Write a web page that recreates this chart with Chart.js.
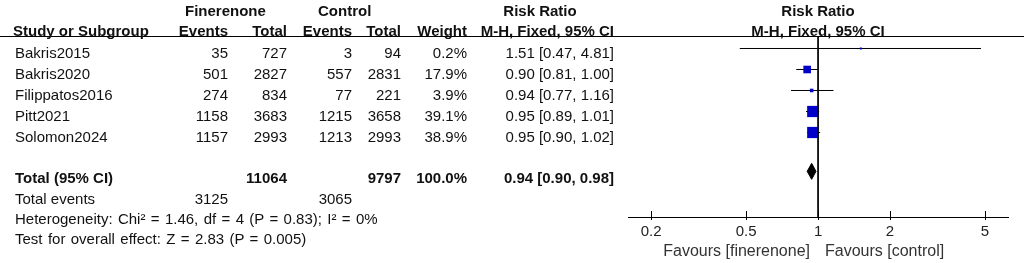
<!DOCTYPE html>
<html>
<head>
<meta charset="utf-8">
<script src="https://cdn.jsdelivr.net/npm/chart.js@4/dist/chart.umd.min.js"></script>
<style>
    html, body { margin: 0; padding: 0; background: #fff; }
    #wrap { position: relative; width: 1024px; height: 263px; overflow: hidden; font-family: "Liberation Sans", Arial, sans-serif; font-size: 15px; color: #111; }
    #forest { position: absolute; left: 0; top: 0; }
    .cell { position: absolute; line-height: 21px; white-space: nowrap; }
    .b { font-weight: bold; }
    .wide { word-spacing: 1.2px; }
    .fav { font-size: 16px; color: #333; }
    .rule { position: absolute; left: 0; top: 36px; width: 1024px; height: 1px; background: #000; }
</style>
</head>
<body>
<div id="wrap">
    <canvas id="forest" width="1024" height="263"></canvas>
    <div class="rule"></div>
</div>
<script>
// study data
const studies = ['Bakris2015', 'Bakris2020', 'Filippatos2016', 'Pitt2021', 'Solomon2024'];
const finEvents = [35, 501, 274, 1158, 1157];
const finTotal = [727, 2827, 834, 3683, 2993];
const ctlEvents = [3, 557, 77, 1215, 1213];
const ctlTotal = [94, 2831, 221, 3658, 2993];
const weights = [0.2, 17.9, 3.9, 39.1, 38.9];
const riskRatio = [1.51, 0.90, 0.94, 0.95, 0.95];
const ciLow = [0.47, 0.81, 0.77, 0.89, 0.90];
const ciHigh = [4.81, 1.00, 1.16, 1.01, 1.02];

// pooled result
const totalFin = 11064;
const totalCtl = 9797;
const totalEventsFin = 3125;
const totalEventsCtl = 3065;
const pooled = [0.90, 0.94, 0.98]; // low, estimate, high
const hetChi2 = 1.46, hetDf = 4, hetP = 0.83, hetI2 = 0;
const overallZ = 2.83, overallP = 0.005;

const xTicks = [0.2, 0.5, 1, 2, 5];

const boxBlue = '#0000c8';

// table text
const wrap = document.getElementById('wrap');

function place(text, x, y, align, cls) {
    const el = document.createElement('div');
    el.className = 'cell' + (cls ? ' ' + cls : '');
    el.textContent = text;
    el.style.top = (y - 10.5) + 'px';
    if (align === 'right') {
        el.style.right = (1024 - x) + 'px';
    } else if (align === 'center') {
        el.style.left = x + 'px';
        el.style.transform = 'translateX(-50%)';
    } else {
        el.style.left = x + 'px';
    }
    wrap.appendChild(el);
}

const col = { name: 15, finEv: 228, finTot: 287, ctlEv: 352, ctlTot: 401, weight: 467, rr: 614 };

function fmtCI(est, lo, hi) {
    return `${est.toFixed(2)} [${lo.toFixed(2)}, ${hi.toFixed(2)}]`;
}

// headers
place('Finerenone', 185, 10, 'left', 'b');
place('Control', 318, 10, 'left', 'b');
place('Risk Ratio', 540, 10, 'center', 'b');
place('Risk Ratio', 818, 10, 'center', 'b');
place('Study or Subgroup', 13, 30.5, 'left', 'b');
place('Events', col.finEv, 30.5, 'right', 'b');
place('Total', col.finTot, 30.5, 'right', 'b');
place('Events', col.ctlEv, 30.5, 'right', 'b');
place('Total', col.ctlTot, 30.5, 'right', 'b');
place('Weight', col.weight, 30.5, 'right', 'b');
place('M-H, Fixed, 95% CI', col.rr, 30.5, 'right', 'b');
place('M-H, Fixed, 95% CI', 818, 30.5, 'center', 'b');

studies.forEach((s, i) => {
    const y = 52 + 21 * i;
    place(s, col.name, y, 'left');
    place(String(finEvents[i]), col.finEv, y, 'right');
    place(String(finTotal[i]), col.finTot, y, 'right');
    place(String(ctlEvents[i]), col.ctlEv, y, 'right');
    place(String(ctlTotal[i]), col.ctlTot, y, 'right');
    place(weights[i].toFixed(1) + '%', col.weight, y, 'right');
    place(fmtCI(riskRatio[i], ciLow[i], ciHigh[i]), col.rr, y, 'right');
});

place('Total (95% CI)', col.name, 177, 'left', 'b');
place(String(totalFin), col.finTot, 177, 'right', 'b');
place(String(totalCtl), col.ctlTot, 177, 'right', 'b');
place('100.0%', col.weight, 177, 'right', 'b');
place(fmtCI(pooled[1], pooled[0], pooled[2]), col.rr, 177, 'right', 'b');
place('Total events', col.name, 198, 'left');
place(String(totalEventsFin), col.finEv, 198, 'right');
place(String(totalEventsCtl), col.ctlEv, 198, 'right');
place(`Heterogeneity: Chi² = ${hetChi2.toFixed(2)}, df = ${hetDf} (P = ${hetP.toFixed(2)}); I² = ${hetI2}%`, col.name, 218, 'left', 'wide');
place(`Test for overall effect: Z = ${overallZ.toFixed(2)} (P = ${overallP})`, col.name, 238, 'left', 'wide');

place('Favours [finerenone]', 810, 250, 'right', 'fav');
place('Favours [control]', 825, 250, 'left', 'fav');

// forest plot
const yMin = -0.595;
const yMax = 8.024;
const totalRow = 5.85;
const diamondHalf = 0.38;

const ciSets = studies.map((s, i) => ({
    label: s + ' CI',
    data: [{ x: ciLow[i], y: i }, { x: ciHigh[i], y: i }],
    borderColor: '#000',
    borderWidth: 1,
    pointRadius: 0,
    order: 3
}));

// RevMan style ticks that cross the axis line
const crossTicks = {
    id: 'crossTicks',
    afterDraw(chart) {
        const x = chart.scales.x;
        const ctx = chart.ctx;
        const base = chart.chartArea.bottom;
        ctx.save();
        ctx.strokeStyle = '#000';
        ctx.lineWidth = 1;
        xTicks.forEach(v => {
            const px = Math.round(x.getPixelForValue(v)) + 0.5;
            ctx.beginPath();
            ctx.moveTo(px, base - 6);
            ctx.lineTo(px, base + 3);
            ctx.stroke();
        });
        ctx.restore();
    }
};

new Chart(document.getElementById('forest'), {
    type: 'line',
    data: {
        datasets: [
            {
                label: 'Studies',
                data: riskRatio.map((v, i) => ({ x: v, y: i })),
                showLine: false,
                pointStyle: 'rect',
                pointRadius: weights.map(w => Math.max(2, 1.8 * Math.sqrt(w)) / Math.SQRT2),
                backgroundColor: boxBlue,
                borderWidth: 0,
                order: 1
            },
            {
                label: 'Total',
                data: [
                    { x: pooled[0], y: totalRow },
                    { x: pooled[1], y: totalRow - diamondHalf },
                    { x: pooled[2], y: totalRow },
                    { x: pooled[1], y: totalRow + diamondHalf },
                    { x: pooled[0], y: totalRow }
                ],
                borderColor: '#000',
                backgroundColor: '#000',
                borderWidth: 1,
                pointRadius: 0,
                fill: 'shape',
                order: 2
            },
            {
                label: 'No effect',
                data: [{ x: 1, y: yMin }, { x: 1, y: yMax }],
                borderColor: '#000',
                borderWidth: 1,
                pointRadius: 0,
                order: 0
            },
            ...ciSets
        ]
    },
    options: {
        responsive: false,
        animation: false,
        devicePixelRatio: 1,
        layout: { padding: { left: 628, right: 16, top: 36, bottom: 16 } },
        plugins: {
            legend: { display: false },
            tooltip: { enabled: false }
        },
        scales: {
            x: {
                type: 'logarithmic',
                min: 0.16,
                max: 6.24,
                afterBuildTicks: scale => {
                    scale.ticks = xTicks.map(v => ({ value: v }));
                },
                afterFit: scale => { scale.height = 30; },
                grid: { display: true, drawOnChartArea: false, drawTicks: false },
                border: { display: true, color: '#000', width: 1 },
                ticks: {
                    autoSkip: false,
                    maxRotation: 0,
                    padding: 6,
                    color: '#222',
                    font: { family: '"Liberation Sans", Arial, sans-serif', size: 15 },
                    callback: value => String(value)
                }
            },
            y: {
                type: 'linear',
                reverse: true,
                min: yMin,
                max: yMax,
                display: false
            }
        }
    },
    plugins: [crossTicks]
});
</script>
</body>
</html>
